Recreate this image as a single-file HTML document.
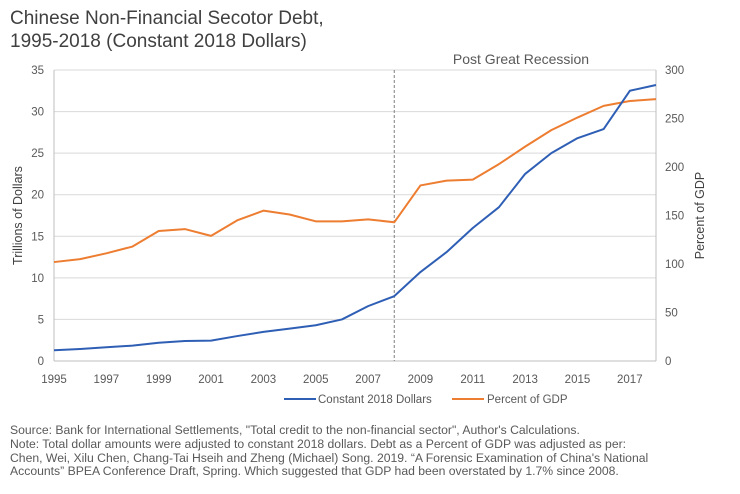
<!DOCTYPE html>
<html><head><meta charset="utf-8">
<style>
body{margin:0;background:#fff;width:740px;height:494px;overflow:hidden;font-family:"Liberation Sans",sans-serif;}
#wrap{position:relative;width:740px;height:494px;}
.title{position:absolute;left:10px;top:7px;font-size:19px;line-height:23px;color:#404040;}
.foot{position:absolute;left:10px;top:424px;font-size:12.2px;line-height:13.8px;color:#595959;white-space:nowrap;}
</style></head>
<body><div id="wrap">
<div class="title">Chinese Non-Financial Secotor Debt,<br>1995-2018 (Constant 2018 Dollars)</div>
<svg id="chart" width="740" height="494" style="position:absolute;left:0;top:0"></svg>
<div class="foot">Source: Bank for International Settlements, "Total credit to the non-financial sector", Author's Calculations.<br>Note: Total dollar amounts were adjusted to constant 2018 dollars. Debt as a Percent of GDP was adjusted as per:<br>Chen, Wei, Xilu Chen, Chang-Tai Hseih and Zheng (Michael) Song. 2019. “A Forensic Examination of China's National<br>Accounts” BPEA Conference Draft, Spring. Which suggested that GDP had been overstated by 1.7% since 2008.</div>
</div>
<script>
const years=[1995,1996,1997,1998,1999,2000,2001,2002,2003,2004,2005,2006,2007,2008,2009,2010,2011,2012,2013,2014,2015,2016,2017,2018];
const dollars=[1.3,1.45,1.65,1.85,2.2,2.4,2.45,3.0,3.5,3.9,4.3,5.0,6.6,7.8,10.7,13.1,16.0,18.5,22.5,25.0,26.8,27.9,32.5,33.2];
const pctGdp=[102,105,111,118,134,136,129,145,155,151,144,144,146,143,181,186,187,203,221,238,251,263,268,270];
const leftTicks=[0,5,10,15,20,25,30,35];
const rightTicks=[0,50,100,150,200,250,300];
const xTicks=[1995,1997,1999,2001,2003,2005,2007,2009,2011,2013,2015,2017];
const markerYear=2008;

const svg=document.getElementById('chart');const NS='http://www.w3.org/2000/svg';
const L=54,R=656,T=70,B=361;
const x=y=>L+(y-1995)/(2018-1995)*(R-L);
const yl=v=>B-v/35*(B-T);
const yr=v=>B-v/300*(B-T);
function mk(tag,attrs,txt){const e=document.createElementNS(NS,tag);for(const k in attrs)e.setAttribute(k,attrs[k]);if(txt!=null)e.textContent=txt;svg.appendChild(e);return e;}
leftTicks.forEach(v=>{
 const g=mk('line',{x1:L,x2:R,y1:yl(v),y2:yl(v),stroke:'#d9d9d9','stroke-width':1});
 
 
 const t=mk('text',{x:L-10,y:yl(v)+4,'text-anchor':'end','font-size':11.5,fill:'#595959'},v);
 
 
});
rightTicks.forEach(v=>{
 const t=mk('text',{x:R+9,y:yr(v)+4,'font-size':11.5,fill:'#595959'},v);
 
 
});
xTicks.forEach(v=>{
 const t=mk('text',{x:x(v),y:B+22,'text-anchor':'middle','font-size':11.5,fill:'#595959'},v);
 
 
});
let a=mk('line',{x1:L,x2:L,y1:T,y2:B,stroke:'#bfbfbf'});
a=mk('line',{x1:R,x2:R,y1:T,y2:B,stroke:'#bfbfbf'});
a=mk('line',{x1:L,x2:R,y1:B,y2:B,stroke:'#bfbfbf'});
a=mk('line',{x1:x(markerYear),x2:x(markerYear),y1:T,y2:B,stroke:'#808080','stroke-dasharray':'3,2'});
a=mk('text',{x:521,y:64,'text-anchor':'middle','font-size':14,fill:'#595959'},'Post Great Recession');
a=mk('text',{x:0,y:0,transform:`translate(22,${(T+B)/2}) rotate(-90)`,'text-anchor':'middle','font-size':12.5,fill:'#404040'},'Trillions of Dollars');
a=mk('text',{x:0,y:0,transform:`translate(704,${(T+B)/2}) rotate(-90)`,'text-anchor':'middle','font-size':12.5,fill:'#404040'},'Percent of GDP');
let p=mk('polyline',{points:pctGdp.map((v,i)=>x(years[i])+','+yr(v)).join(' '),fill:'none',stroke:'#ed7d31','stroke-width':2,'stroke-linejoin':'round'});

p=mk('polyline',{points:dollars.map((v,i)=>x(years[i])+','+yl(v)).join(' '),fill:'none',stroke:'#2f5fb5','stroke-width':2,'stroke-linejoin':'round'});

a=mk('line',{x1:284,x2:316,y1:399,y2:399,stroke:'#2f5fb5','stroke-width':2});
a=mk('text',{x:318,y:403,'font-size':11.5,fill:'#595959'},'Constant 2018 Dollars');
a=mk('line',{x1:452,x2:484,y1:399,y2:399,stroke:'#ed7d31','stroke-width':2});
a=mk('text',{x:487,y:403,'font-size':11.5,fill:'#595959'},'Percent of GDP');
</script>
</body></html>
